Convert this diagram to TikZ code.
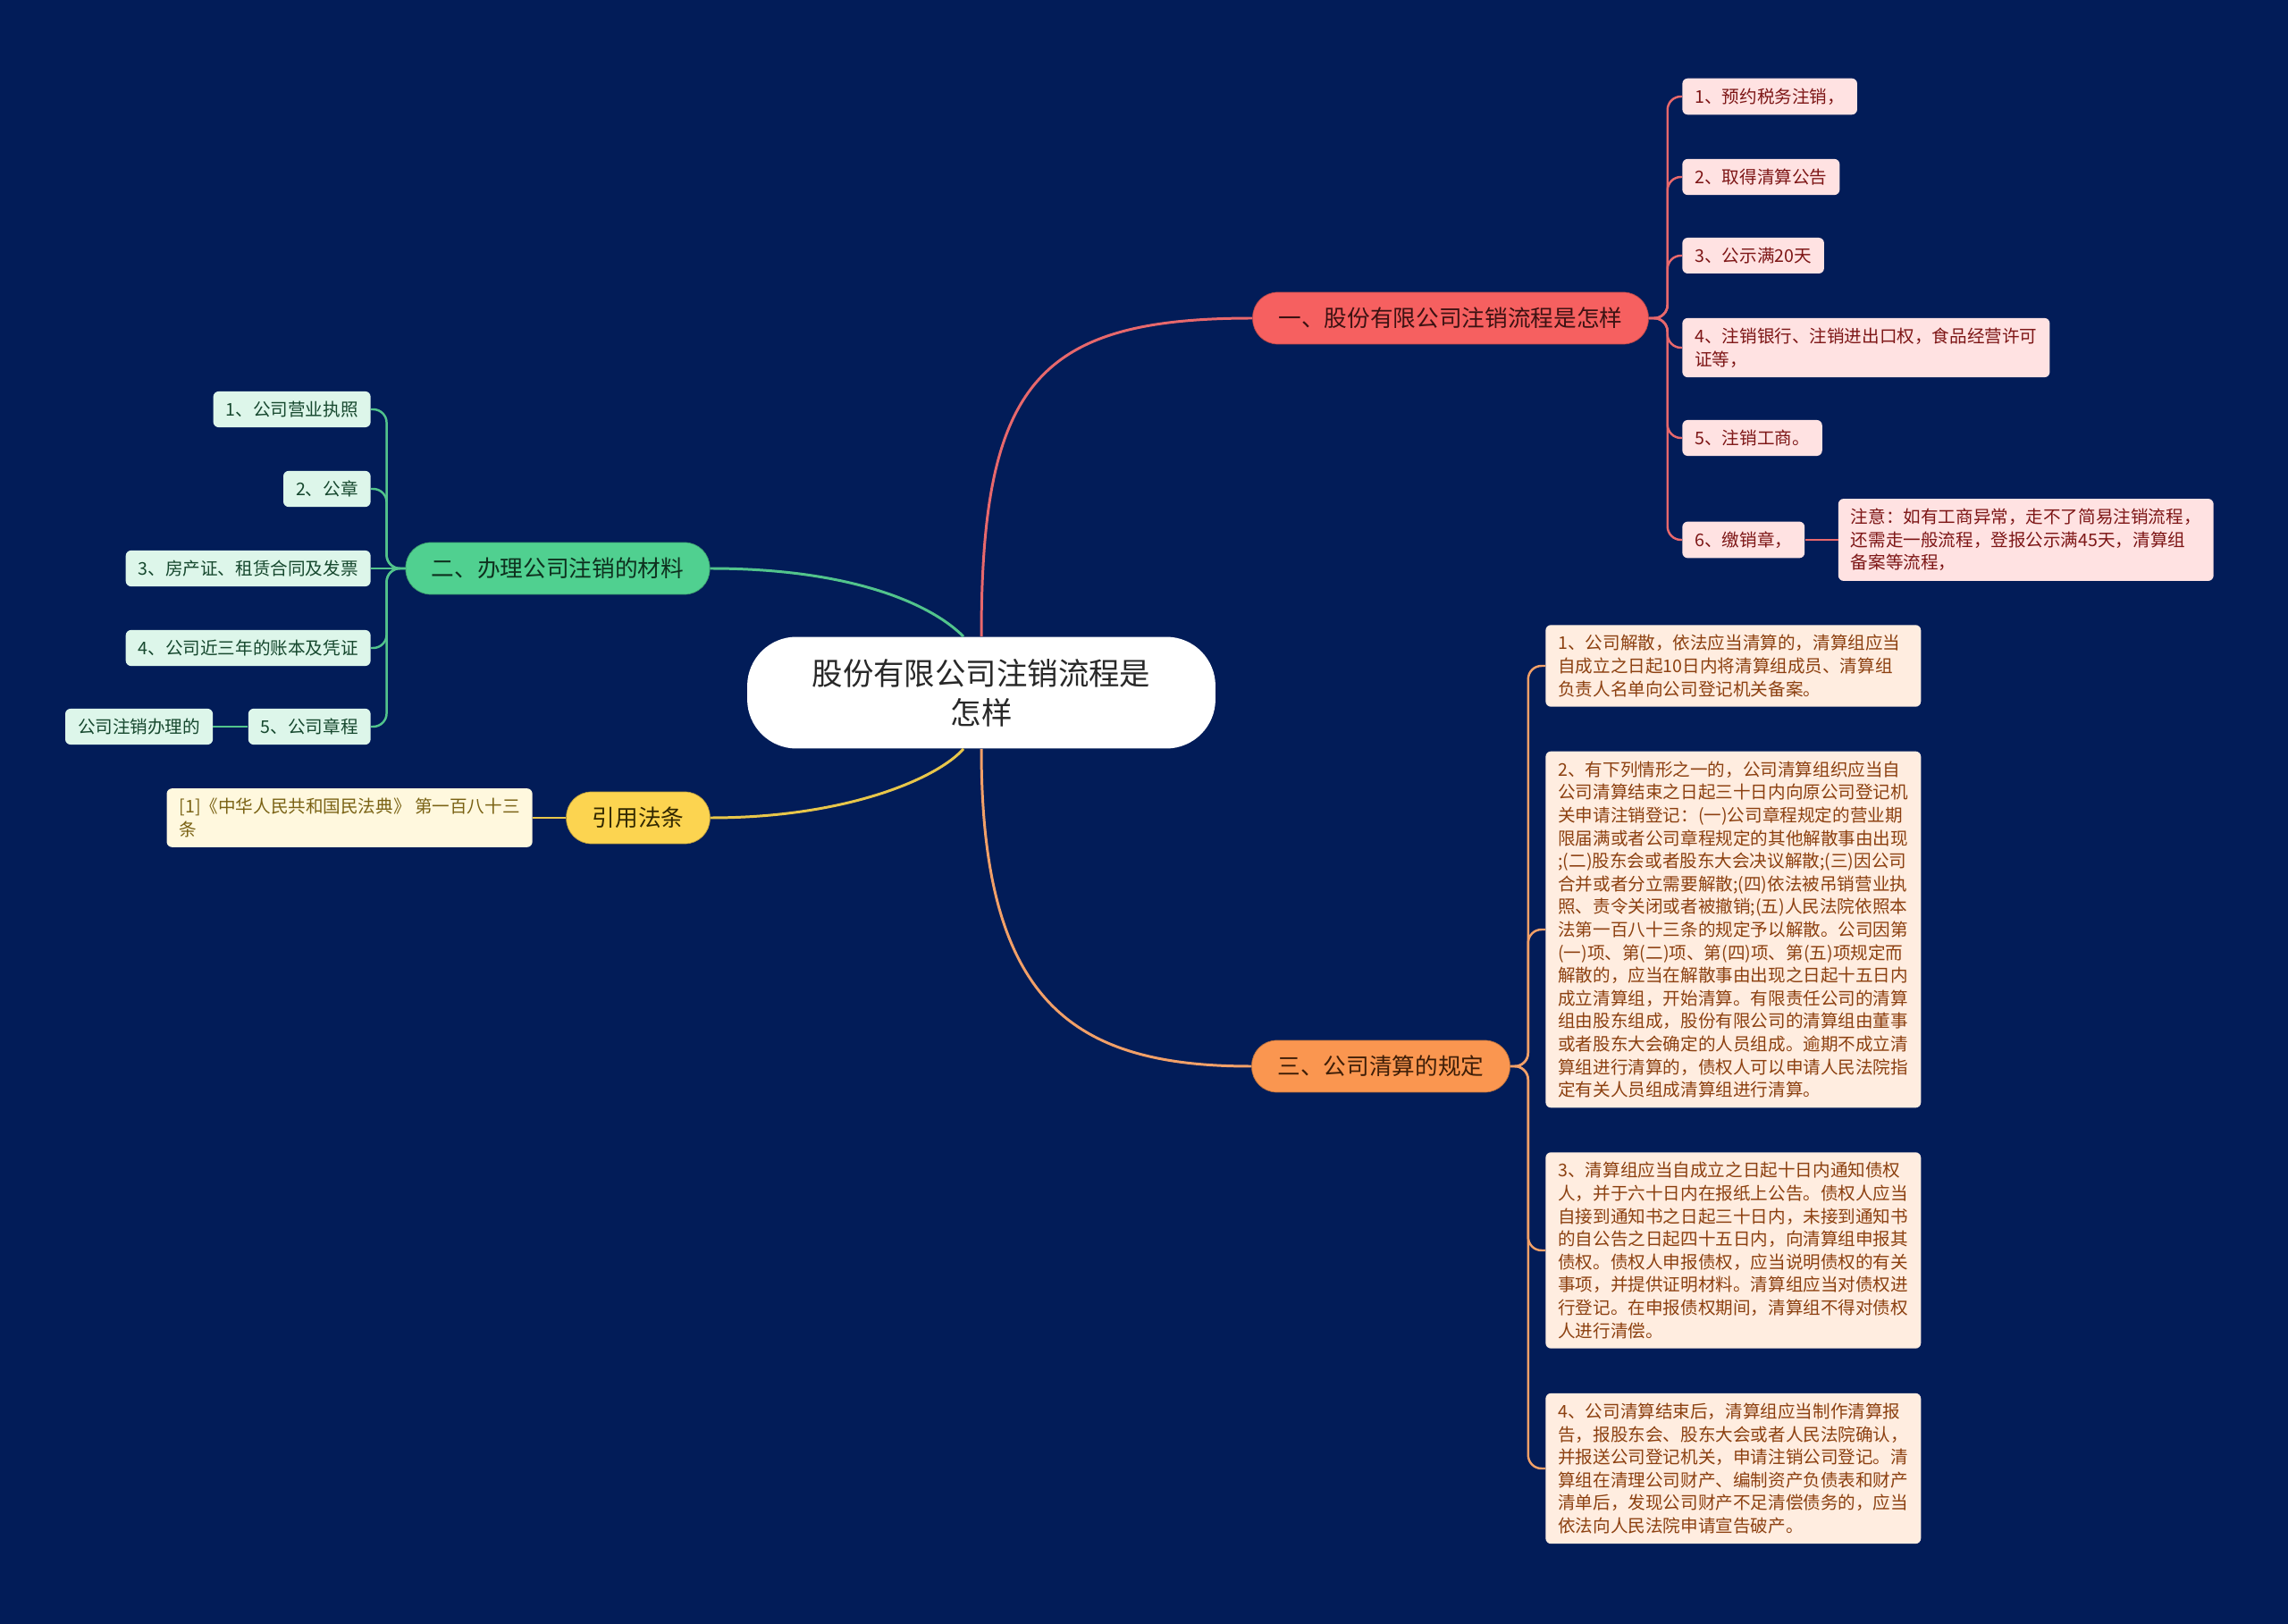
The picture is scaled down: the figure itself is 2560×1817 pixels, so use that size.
\documentclass[tikz,border=0pt]{standalone}
\usepackage{fontspec}
\setmainfont{Noto Sans CJK SC}
\usetikzlibrary{positioning}
\definecolor{bg}{RGB}{2,28,88}
\definecolor{rd}{RGB}{246,96,96}
\definecolor{rdl}{RGB}{255,226,226}
\definecolor{rdt}{RGB}{125,22,22}
\definecolor{rde}{RGB}{232,104,108}
\definecolor{gn}{RGB}{80,208,144}
\definecolor{gnl}{RGB}{221,246,234}
\definecolor{gnt}{RGB}{22,72,46}
\definecolor{gne}{RGB}{82,196,140}
\definecolor{yl}{RGB}{252,212,80}
\definecolor{yll}{RGB}{255,248,222}
\definecolor{ylt}{RGB}{122,98,20}
\definecolor{yle}{RGB}{232,198,74}
\definecolor{og}{RGB}{250,150,80}
\definecolor{ogl}{RGB}{255,237,224}
\definecolor{ogt}{RGB}{140,64,16}
\definecolor{oge}{RGB}{242,160,104}
\begin{document}
\begin{tikzpicture}[x=0.02cm,y=-0.02cm,
    topic/.style={rectangle,rounded corners=0.56cm,minimum height=1.16cm,inner xsep=0.58cm,font=\fontsize{14.6pt}{18pt}\selectfont,fill=#1,draw=#1!75!black,line width=0.4pt},
    leaf/.style={rectangle,rounded corners=0.12cm,inner xsep=0.28cm,inner ysep=0.22cm,align=left,font=\fontsize{11.15pt}{14.57pt}\selectfont,fill=#1},
    br/.style={line width=1.7pt,#1},
    ln/.style={line width=1.4pt,rounded corners=0.3cm,#1},
]
\fill[bg] (0,0) rectangle (2560,1817);
\useasboundingbox (0,0) rectangle (2560,1817);

% Root
\node[rectangle,rounded corners=1.1cm,fill=white,minimum width=10.48cm,minimum height=2.5cm,align=center,text={rgb,255:red,40;green,40;blue,40},font=\fontsize{19.6pt}{25pt}\selectfont] (root) at (1098,775) {股份有限公司注销流程是\\怎样};

% Main topics
\node[topic=rd,text={rgb,255:red,60;green,18;blue,18}] (b1) at (1623,356) {一、股份有限公司注销流程是怎样};
\node[topic=gn,text={rgb,255:red,14;green,48;blue,30}] (b2) at (624,636) {二、办理公司注销的材料};
\node[topic=yl,text={rgb,255:red,50;green,40;blue,0}] (b3) at (714,915) {引用法条};
\node[topic=og,text={rgb,255:red,62;green,30;blue,8}] (b4) at (1545,1193) {三、公司清算的规定};

% Procedure steps
\node[leaf=rdl,text=rdt,anchor=west] (r1) at (1882,108) {1、预约税务注销，};
\node[leaf=rdl,text=rdt,anchor=west] (r2) at (1882,198) {2、取得清算公告};
\node[leaf=rdl,text=rdt,anchor=west] (r3) at (1882,286) {3、公示满20天};
\node[leaf=rdl,text=rdt,anchor=west] (r4) at (1882,389) {4、注销银行、注销进出口权，食品经营许可\\证等，};
\node[leaf=rdl,text=rdt,anchor=west] (r5) at (1882,490) {5、注销工商。};
\node[leaf=rdl,text=rdt,anchor=west] (r6) at (1882,604) {6、缴销章，};
\node[leaf=rdl,text=rdt,right=0.74cm of r6] (note) {注意：如有工商异常，走不了简易注销流程，\\还需走一般流程，登报公示满45天，清算组\\备案等流程，};

% Materials
\node[leaf=gnl,text=gnt,anchor=east] (g1) at (415,458) {1、公司营业执照};
\node[leaf=gnl,text=gnt,anchor=east] (g2) at (415,547) {2、公章};
\node[leaf=gnl,text=gnt,anchor=east] (g3) at (415,636) {3、房产证、租赁合同及发票};
\node[leaf=gnl,text=gnt,anchor=east] (g4) at (415,725) {4、公司近三年的账本及凭证};
\node[leaf=gnl,text=gnt,anchor=east] (g5) at (415,813) {5、公司章程};
\node[leaf=gnl,text=gnt,left=0.78cm of g5] (g6) {公司注销办理的};

% Law
\node[leaf=yll,text=ylt,anchor=east] (y1) at (596,915) {[1]《中华人民共和国民法典》 第一百八十三\\条};

% Liquidation rules
\node[leaf=ogl,text=ogt,anchor=west,text width=7.84cm] (o1) at (1729,745) {1、公司解散，依法应当清算的，清算组应当\\自成立之日起10日内将清算组成员、清算组\\负责人名单向公司登记机关备案。};
\node[leaf=ogl,text=ogt,anchor=west,text width=7.84cm] (o2) at (1729,1040) {2、有下列情形之一的，公司清算组织应当自\\公司清算结束之日起三十日内向原公司登记机\\关申请注销登记：(一)公司章程规定的营业期\\限届满或者公司章程规定的其他解散事由出现\\;(二)股东会或者股东大会决议解散;(三)因公司\\合并或者分立需要解散;(四)依法被吊销营业执\\照、责令关闭或者被撤销;(五)人民法院依照本\\法第一百八十三条的规定予以解散。公司因第\\(一)项、第(二)项、第(四)项、第(五)项规定而\\解散的，应当在解散事由出现之日起十五日内\\成立清算组，开始清算。有限责任公司的清算\\组由股东组成，股份有限公司的清算组由董事\\或者股东大会确定的人员组成。逾期不成立清\\算组进行清算的，债权人可以申请人民法院指\\定有关人员组成清算组进行清算。};
\node[leaf=ogl,text=ogt,anchor=west,text width=7.84cm] (o3) at (1729,1399) {3、清算组应当自成立之日起十日内通知债权\\人，并于六十日内在报纸上公告。债权人应当\\自接到通知书之日起三十日内，未接到通知书\\的自公告之日起四十五日内，向清算组申报其\\债权。债权人申报债权，应当说明债权的有关\\事项，并提供证明材料。清算组应当对债权进\\行登记。在申报债权期间，清算组不得对债权\\人进行清偿。};
\node[leaf=ogl,text=ogt,anchor=west,text width=7.84cm] (o4) at (1729,1643) {4、公司清算结束后，清算组应当制作清算报\\告，报股东会、股东大会或者人民法院确认，\\并报送公司登记机关，申请注销公司登记。清\\算组在清理公司财产、编制资产负债表和财产\\清单后，发现公司财产不足清偿债务的，应当\\依法向人民法院申请宣告破产。};

% Root to topics
\draw[br=rde] (root.north) .. controls +(0,-283) and +(-241,0) .. (b1.west);
\draw[br=gne] ([xshift=-0.4cm]root.north) .. controls +(-38,-38) and +(155,0) .. (b2.east);
\draw[br=yle] ([xshift=-0.4cm]root.south) .. controls +(-28,32) and +(155,0) .. (b3.east);
\draw[br=oge] (root.south) .. controls +(0,283) and +(-201,0) .. (b4.west);

% Topics to leaves
\draw[ln=rde] (b1.east) -- ++(21,0) |- (r1.west); \draw[ln=rde] (b1.east) -- ++(21,0) |- (r2.west);
\draw[ln=rde] (b1.east) -- ++(21,0) |- (r3.west); \draw[ln=rde] (b1.east) -- ++(21,0) |- (r4.west);
\draw[ln=rde] (b1.east) -- ++(21,0) |- (r5.west); \draw[ln=rde] (b1.east) -- ++(21,0) |- (r6.west);
\draw[ln=rde] (r6) -- (note);
\draw[ln=gne] (b2.west) -- ++(-21,0) |- (g1.east); \draw[ln=gne] (b2.west) -- ++(-21,0) |- (g2.east);
\draw[ln=gne] (b2.west) -- (g3.east);
\draw[ln=gne] (b2.west) -- ++(-21,0) |- (g4.east); \draw[ln=gne] (b2.west) -- ++(-21,0) |- (g5.east);
\draw[ln=gne] (g5) -- (g6);
\draw[ln=yle] (b3) -- (y1);
\draw[ln=oge] (b4.east) -- ++(20,0) |- (o1.west); \draw[ln=oge] (b4.east) -- ++(20,0) |- (o2.west);
\draw[ln=oge] (b4.east) -- ++(20,0) |- (o3.west); \draw[ln=oge] (b4.east) -- ++(20,0) |- (o4.west);
\end{tikzpicture}
\end{document}
